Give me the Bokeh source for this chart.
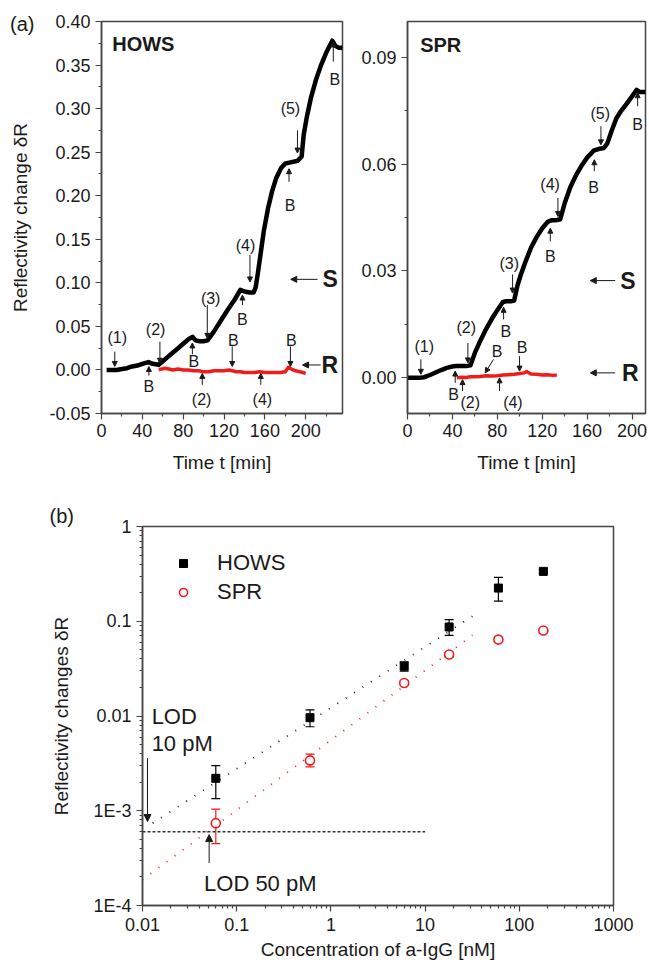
from bokeh.plotting import figure
from bokeh.models import (Range1d, FixedTicker, NumeralTickFormatter, Arrow, NormalHead,
                          ColumnDataSource, Whisker, TeeHead, Legend, LegendItem,
                          LinearAxis, Title)
from bokeh.layouts import column, row
from bokeh.embed import file_html
from bokeh.resources import INLINE
from bokeh.core.properties import value

FONT = "Liberation Sans"
RED = "#f01c1c"
AX = "#444444"
TXT = "#1a1a1a"

# ---------------- (a) HOWS : sensor (S) and reference (R) channels ----------------
hows_t = [5, 10, 15, 20, 25, 30, 35, 40, 46, 50, 56, 60, 65, 70, 75, 80, 85, 89, 92, 96,
          100, 104, 110, 116, 123, 130, 136, 140, 145, 149, 151, 153, 156, 159, 163, 167,
          171, 176, 180, 184, 188, 192, 196, 198, 201, 205, 210, 215, 220, 226, 229, 232, 236]
hows_s = [0.000, 0.000, 0.000, 0.001, 0.002, 0.004, 0.005, 0.007, 0.009, 0.007, 0.006, 0.010,
          0.015, 0.020, 0.025, 0.030, 0.035, 0.038, 0.034, 0.033, 0.033, 0.034, 0.044, 0.055,
          0.068, 0.080, 0.092, 0.090, 0.089, 0.089, 0.095, 0.110, 0.135, 0.160, 0.185, 0.205,
          0.220, 0.232, 0.237, 0.238, 0.239, 0.240, 0.245, 0.270, 0.290, 0.312, 0.333, 0.350,
          0.364, 0.378, 0.372, 0.370, 0.370]
hows_rt = [56, 59, 62, 66, 70, 75, 80, 85, 90, 95, 100, 105, 110, 115, 120, 125, 128, 132,
           136, 140, 145, 150, 155, 160, 165, 170, 175, 180, 183, 186, 190, 194, 197, 200]
hows_r = [0.0005, 0.001, 0.002, 0.001, 0.000, 0.001, 0.000, 0.000, -0.001, -0.001, -0.002,
          -0.002, -0.001, -0.001, -0.001, 0.000, -0.001, -0.002, -0.002, -0.003, -0.003,
          -0.003, -0.002, -0.003, -0.003, -0.003, -0.003, -0.002, 0.003, 0.001, -0.001,
          -0.002, -0.003, -0.004]

hows_lab_text = ["(1)", "B", "(2)", "B", "(3)", "B", "(4)", "B", "(5)", "B", "B", "B", "(2)", "(4)"]
hows_lab_t = [15.4, 46.4, 53.0, 90.5, 106.9, 138.0, 141.0, 184.6, 185.0, 228.5, 129.0, 186.0, 98.0, 157.5]
hows_lab_y = [0.0375, -0.019, 0.0467, 0.0095, 0.082, 0.058, 0.143, 0.189, 0.300, 0.333, 0.034, 0.034, -0.034, -0.034]

hows_arr_t0 = [13.0, 46.4, 57.2, 89.0, 103.6, 138.0, 145.4, 183.6, 191.9, 227.0, 128.0, 185.0, 98.7, 156.0]
hows_arr_y0 = [0.021, -0.0065, 0.0325, 0.018, 0.0745, 0.0745, 0.132, 0.216, 0.275, 0.354, 0.027, 0.027, -0.017, -0.017]
hows_arr_t1 = [13.0, 46.4, 57.2, 89.0, 103.6, 138.0, 145.4, 183.6, 191.9, 227.0, 128.0, 185.0, 98.7, 156.0]
hows_arr_y1 = [0.004, 0.004, 0.0077, 0.031, 0.0363, 0.086, 0.101, 0.231, 0.249, 0.3765, 0.004, 0.004, -0.004, -0.004]

hows_sr_text = ["S", "R"]
hows_sr_t = [216.4, 215.4]
hows_sr_y = [0.104, 0.0057]
hows_sr_t0 = [211.5, 214.7]
hows_sr_t1 = [185.3, 196.8]

# ---------------- (a) SPR ----------------
spr_t = [0, 5, 10, 15, 20, 25, 30, 35, 40, 43, 48, 52, 56, 60, 65, 70, 75, 80, 85, 88,
         92, 95, 98, 101, 105, 110, 115, 120, 125, 128, 132, 136, 140, 145, 150, 155, 160,
         166, 170, 175, 178, 182, 186, 190, 195, 200, 204, 207, 212]
spr_s = [0.0, 0.0, 0.0, 0.0002, 0.0008, 0.0015, 0.0022, 0.0028, 0.0032, 0.0033, 0.0033,
         0.0033, 0.0035, 0.007, 0.0105, 0.0137, 0.0165, 0.019, 0.0213, 0.0215, 0.0215,
         0.0217, 0.026, 0.029, 0.0325, 0.0365, 0.0395, 0.042, 0.0438, 0.0442, 0.0442,
         0.0445, 0.049, 0.0535, 0.0568, 0.0595, 0.0618, 0.0638, 0.0642, 0.0645, 0.0658,
         0.0695, 0.0728, 0.0748, 0.0768, 0.079, 0.0808, 0.0802, 0.0802]
spr_rt = [44, 48, 52, 56, 60, 65, 70, 75, 80, 85, 90, 95, 100, 104, 106, 110, 115, 120, 125, 130, 133]
spr_r = [0.0, 0.0002, 0.0001, 0.0003, 0.0003, 0.0004, 0.0006, 0.0005, 0.0006, 0.0008, 0.0009,
         0.0010, 0.0012, 0.0014, 0.0018, 0.0011, 0.0010, 0.0008, 0.0009, 0.0007, 0.0008]

spr_lab_text = ["(1)", "B", "(2)", "(2)", "B", "(4)", "B", "B", "(3)", "B", "(4)", "B", "(5)", "B"]
spr_lab_t = [14.9, 41.0, 52.3, 55.9, 79.7, 93.9, 102.0, 87.7, 90.6, 127.2, 127.0, 165.8, 171.7, 205.0]
spr_lab_y = [0.0089, -0.0047, 0.014, -0.007, 0.0073, -0.007, 0.0086, 0.0131, 0.0322, 0.0341, 0.0542, 0.0533, 0.0743, 0.071]

spr_arr_t0 = [11.9, 42.5, 53.8, 49.0, 76.6, 82.0, 99.8, 85.6, 93.6, 127.2, 134.0, 166.4, 172.3, 205.0]
spr_arr_y0 = [0.0052, -0.0014, 0.0098, -0.0037, 0.0052, -0.0037, 0.0061, 0.0164, 0.029, 0.0383, 0.0505, 0.058, 0.0706, 0.0762]
spr_arr_t1 = [11.9, 42.5, 53.8, 49.0, 69.2, 82.0, 99.8, 85.6, 93.6, 127.2, 134.0, 166.4, 172.3, 205.0]
spr_arr_y1 = [0.001, 0.0019, 0.0042, -0.0005, 0.0014, 0.0, 0.0019, 0.0198, 0.0238, 0.042, 0.0453, 0.0612, 0.0654, 0.080]

spr_sr_text = ["S", "R"]
spr_sr_t = [189.5, 191.0]
spr_sr_y = [0.0273, 0.0014]
spr_sr_t0 = [185.0, 185.0]
spr_sr_t1 = [162.8, 162.8]

# ---------------- (b) calibration ----------------
conc = [0.06, 0.6, 6, 18, 60, 180]
hows_dr = [0.0022, 0.0096, 0.0335, 0.087, 0.224, 0.336]
hows_lo = [0.00134, 0.0077, 0.0297, 0.071, 0.163, 0.322]
hows_hi = [0.0030, 0.0116, 0.0373, 0.104, 0.291, 0.352]
spr_dr = [0.00074, 0.0034, 0.0223, 0.0446, 0.064, 0.080]
spr_lo = [0.00045, 0.0029, 0.021, 0.042, 0.061, 0.077]
spr_hi = [0.00104, 0.00395, 0.0235, 0.047, 0.067, 0.083]
fit_hows_x = [0.0128, 31.8]
fit_hows_y = [7.4e-4, 0.113]
fit_spr_x = [0.01, 31.8]
fit_spr_y = [1.87e-4, 0.071]
lod_x = [0.01, 10]
lod_y = [6.0e-4, 6.0e-4]


def style(p):
    p.xgrid.visible = False
    p.ygrid.visible = False
    p.outline_line_color = AX
    p.outline_line_width = 1.5
    p.outline_line_alpha = 1
    for ax in (p.xaxis[0], p.yaxis[0]):
        ax.axis_line_color = AX
        ax.axis_line_width = 1.5
        ax.major_tick_line_color = AX
        ax.minor_tick_line_color = AX
        ax.major_tick_line_width = 1.2
        ax.minor_tick_line_width = 1.2
        ax.major_tick_in = 0
        ax.major_tick_out = 6
        ax.minor_tick_in = 0
        ax.minor_tick_out = 3
        ax.major_label_text_font = FONT
        ax.major_label_text_font_size = "18px"
        ax.major_label_text_color = TXT
        ax.major_label_standoff = 5
        ax.axis_label_text_font = FONT
        ax.axis_label_text_font_size = "19px"
        ax.axis_label_text_font_style = "normal"
        ax.axis_label_text_color = TXT


def texts(p, xs, ys, ts, size, align="center", bold=False):
    p.text(x=xs, y=ys, text=ts, text_font=value(FONT), text_font_size=size,
           text_align=align, text_baseline="middle", text_color=TXT,
           text_font_style="bold" if bold else "normal")


def arrows(p, x0, y0, x1, y1, head=5, width=1.0):
    src = ColumnDataSource(dict(x0=x0, y0=y0, x1=x1, y1=y1))
    p.add_layout(Arrow(source=src, x_start="x0", y_start="y0", x_end="x1", y_end="y1",
                       line_color=TXT, line_width=width,
                       end=NormalHead(size=head, fill_color=TXT, line_color=TXT)))


# ---- HOWS panel
pa = figure(width=350, height=496, x_range=Range1d(0, 236), y_range=Range1d(-0.05, 0.40),
            output_backend="svg", toolbar_location=None,
            min_border_left=101, min_border_right=8, min_border_top=21, min_border_bottom=83)
style(pa)
pa.xaxis[0].ticker = FixedTicker(ticks=[0, 40, 80, 120, 160, 200], minor_ticks=[20, 60, 100, 140, 180, 220])
pa.yaxis[0].ticker = FixedTicker(ticks=[-0.05, 0.0, 0.05, 0.10, 0.15, 0.20, 0.25, 0.30, 0.35, 0.40],
                                 minor_ticks=[-0.025, 0.025, 0.075, 0.125, 0.175, 0.225, 0.275, 0.325, 0.375])
pa.yaxis[0].formatter = NumeralTickFormatter(format="0.00")
pa.xaxis[0].major_label_standoff = 4
pa.xaxis[0].axis_label = "Time t [min]"
pa.xaxis[0].axis_label_standoff = 12
# outer left axis: carries the panel tag "(a)" and the y-axis title
tag_a = LinearAxis(ticker=FixedTicker(ticks=[0.397], minor_ticks=[]),
                   major_label_overrides={0.397: "(a)"},
                   axis_line_color=None, major_tick_line_color=None, minor_tick_line_color=None,
                   major_tick_in=0, major_tick_out=0, minor_tick_in=0, minor_tick_out=0,
                   major_label_standoff=12, major_label_text_font=FONT,
                   major_label_text_font_size="20px", major_label_text_color=TXT,
                   axis_label="Reflectivity change δR", axis_label_standoff=-24,
                   axis_label_text_font=FONT, axis_label_text_font_size="19px",
                   axis_label_text_font_style="normal", axis_label_text_color=TXT)
pa.add_layout(tag_a, "left")
pa.line(hows_rt, hows_r, line_color=RED, line_width=3.5, line_join="round")
pa.line(hows_t, hows_s, line_color="black", line_width=4.5, line_join="round")
arrows(pa, hows_arr_t0, hows_arr_y0, hows_arr_t1, hows_arr_y1)
arrows(pa, hows_sr_t0, hows_sr_y, hows_sr_t1, hows_sr_y, head=6)
texts(pa, hows_lab_t, hows_lab_y, hows_lab_text, "16px")
texts(pa, hows_sr_t, hows_sr_y, hows_sr_text, "23px", align="left", bold=True)
texts(pa, [10.5], [0.3745], ["HOWS"], "20px", align="left", bold=True)

# ---- SPR panel
pb = figure(width=299, height=496, x_range=Range1d(0, 212), y_range=Range1d(-0.01, 0.10),
            output_backend="svg", toolbar_location=None,
            min_border_left=57, min_border_right=4, min_border_top=19, min_border_bottom=83)
style(pb)
pb.xaxis[0].ticker = FixedTicker(ticks=[0, 40, 80, 120, 160, 200], minor_ticks=[20, 60, 100, 140, 180])
pb.yaxis[0].ticker = FixedTicker(ticks=[0.0, 0.03, 0.06, 0.09], minor_ticks=[0.015, 0.045, 0.075])
pb.yaxis[0].formatter = NumeralTickFormatter(format="0.00")
pb.xaxis[0].major_label_standoff = 4
pb.xaxis[0].axis_label = "Time t [min]"
pb.xaxis[0].axis_label_standoff = 12
pb.line(spr_rt, spr_r, line_color=RED, line_width=3.5, line_join="round")
pb.line(spr_t, spr_s, line_color="black", line_width=4.5, line_join="round")
arrows(pb, spr_arr_t0, spr_arr_y0, spr_arr_t1, spr_arr_y1)
arrows(pb, spr_sr_t0, spr_sr_y, spr_sr_t1, spr_sr_y, head=6)
texts(pb, spr_lab_t, spr_lab_y, spr_lab_text, "16px")
texts(pb, spr_sr_t, spr_sr_y, spr_sr_text, "23px", align="left", bold=True)
texts(pb, [11.3], [0.0935], ["SPR"], "20px", align="left", bold=True)

# ---- calibration panel
pc = figure(width=649, height=469, x_axis_type="log", y_axis_type="log",
            x_range=Range1d(0.01, 1000), y_range=Range1d(1e-4, 1),
            output_backend="svg", toolbar_location=None,
            min_border_left=142, min_border_right=36, min_border_top=30, min_border_bottom=60)
style(pc)
xt = [0.01, 0.1, 1, 10, 100, 1000]
yt = [1e-4, 1e-3, 1e-2, 0.1, 1]
pc.xaxis[0].ticker = FixedTicker(ticks=xt, minor_ticks=[k * d for d in xt[:-1] for k in range(2, 10)])
pc.yaxis[0].ticker = FixedTicker(ticks=yt, minor_ticks=[k * d for d in yt[:-1] for k in range(2, 10)])
pc.xaxis[0].major_label_overrides = {0.01: "0.01", 0.1: "0.1", 1: "1", 10: "10", 100: "100", 1000: "1000"}
pc.yaxis[0].major_label_overrides = {1e-4: "1E-4", 1e-3: "1E-3", 1e-2: "0.01", 0.1: "0.1", 1: "1"}
pc.xaxis[0].major_label_standoff = 6
pc.xaxis[0].axis_label = "Concentration of a-IgG [nM]"
pc.xaxis[0].axis_label_standoff = 5
pc.yaxis[0].axis_label = "Reflectivity changes δR"
pc.yaxis[0].axis_label_standoff = 18
pc.add_layout(Title(text="(b)", align="left", offset=-93, standoff=0, text_font=FONT,
                    text_font_size="20px", text_font_style="normal", text_color=TXT), "above")

pc.line(lod_x, lod_y, line_color="#333333", line_width=1.3, line_dash="3 2")
pc.line(fit_hows_x, fit_hows_y, line_color="#222222", line_width=1.8, line_dash="1 9")
pc.line(fit_spr_x, fit_spr_y, line_color=RED, line_width=1.8, line_dash="1 9")
wsrc_h = ColumnDataSource(dict(x=conc, lo=hows_lo, hi=hows_hi))
wsrc_s = ColumnDataSource(dict(x=conc, lo=spr_lo, hi=spr_hi))
pc.add_layout(Whisker(source=wsrc_h, base="x", lower="lo", upper="hi", line_color="black", line_width=1.2,
                      upper_head=TeeHead(size=9, line_color="black", line_width=1.2),
                      lower_head=TeeHead(size=9, line_color="black", line_width=1.2)))
pc.add_layout(Whisker(source=wsrc_s, base="x", lower="lo", upper="hi", line_color=RED, line_width=1.2,
                      upper_head=TeeHead(size=9, line_color=RED, line_width=1.2),
                      lower_head=TeeHead(size=9, line_color=RED, line_width=1.2)))
r_h = pc.scatter(conc, hows_dr, marker="square", size=8, fill_color="black", line_color="black")
r_s = pc.scatter(conc, spr_dr, marker="circle", size=9, fill_color="white", line_color=RED, line_width=1.6)

leg = Legend(items=[LegendItem(label="HOWS", renderers=[r_h]), LegendItem(label="SPR", renderers=[r_s])],
             location=(31, 300), border_line_color=None, background_fill_alpha=0,
             label_text_font=FONT, label_text_font_size="22px", label_text_color=TXT,
             glyph_width=20, glyph_height=20, label_standoff=24, spacing=3, padding=10, margin=0)
pc.add_layout(leg)

arrows(pc, [0.0113, 0.051], [3.6e-3, 2.8e-4], [0.0113, 0.051], [7.7e-4, 5.6e-4], head=7)
texts(pc, [0.0125, 0.0125, 0.045], [0.01, 5.1e-3, 1.72e-4], ["LOD", "10 pM", "LOD 50 pM"], "22px", align="left")

layout = column(row(pa, pb, spacing=0), pc, spacing=0)
open("out.html", "w").write(file_html(layout, INLINE))
